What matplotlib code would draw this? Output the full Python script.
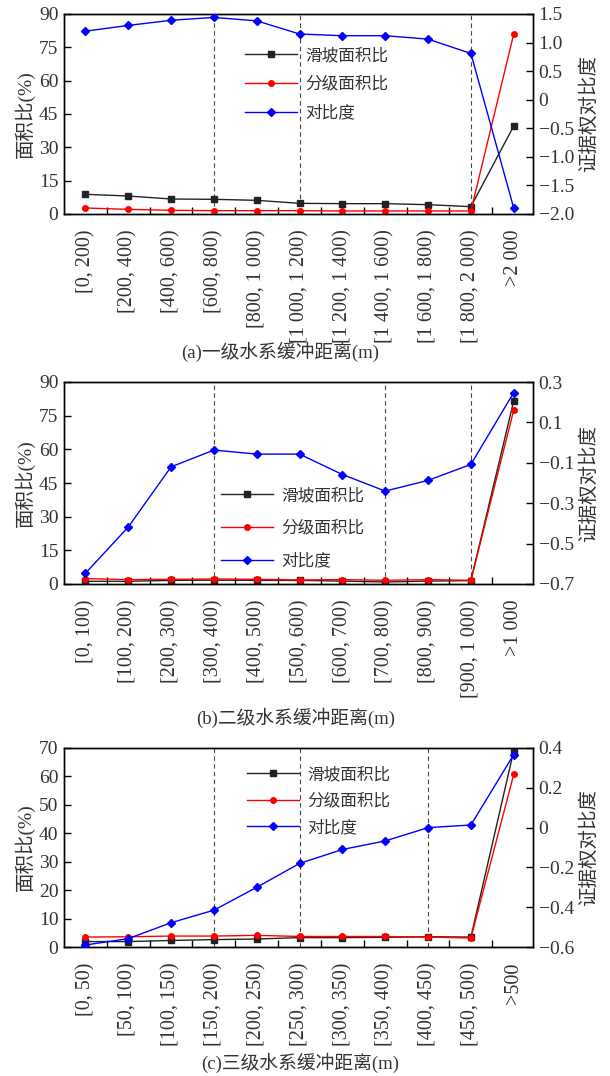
import matplotlib
matplotlib.use('Agg')
import matplotlib.pyplot as plt
from matplotlib.ticker import FixedLocator

plt.rcParams['font.family'] = ['Liberation Serif', 'Noto Sans CJK SC']
plt.rcParams['axes.unicode_minus'] = True

TXT = '#333333'

# (a) first-order river buffers
labels_a = ['[0, 200)', '[200, 400)', '[400, 600)', '[600, 800)', '[800, 1 000)',
            '[1 000, 1 200)', '[1 200, 1 400)', '[1 400, 1 600)', '[1 600, 1 800)',
            '[1 800, 2 000)', '>2 000']
slide_a = [8.85, 8.1, 6.75, 6.6, 6.15, 4.8, 4.65, 4.65, 4.2, 3.3, 39.6]
grade_a = [2.7, 2.1, 1.65, 1.5, 1.5, 1.5, 1.35, 1.35, 1.35, 1.35, 81.0]
contrast_a = [1.20, 1.30, 1.39, 1.44, 1.38, 1.15, 1.12, 1.12, 1.06, 0.81, -1.895]
dash_a = [3, 5, 9]

# (b) second-order river buffers
labels_b = ['[0, 100)', '[100, 200)', '[200, 300)', '[300, 400)', '[400, 500)',
            '[500, 600)', '[600, 700)', '[700, 800)', '[800, 900)', '[900, 1 000)',
            '>1 000']
slide_b = [1.2, 1.2, 1.6, 1.7, 1.6, 1.6, 1.3, 0.9, 1.3, 1.5, 81.6]
grade_b = [2.4, 1.95, 2.1, 2.25, 2.1, 1.8, 1.95, 1.65, 1.95, 1.65, 77.5]
contrast_b = [-0.647, -0.418, -0.12, -0.037, -0.057, -0.057, -0.158, -0.24, -0.187,
              -0.108, 0.248]
dash_b = [3, 7, 9]

# (c) third-order river buffers
labels_c = ['[0, 50)', '[50, 100)', '[100, 150)', '[150, 200)', '[200, 250)',
            '[250, 300)', '[300, 350)', '[350, 400)', '[400, 450)', '[450, 500)',
            '>500']
slide_c = [1.9, 1.9, 2.3, 2.6, 2.8, 3.3, 3.3, 3.4, 3.6, 3.5, 69.0]
grade_c = [3.5, 3.6, 3.85, 3.85, 4.1, 3.7, 3.7, 3.7, 3.5, 3.15, 60.7]
contrast_c = [-0.59, -0.558, -0.478, -0.415, -0.30, -0.18, -0.11, -0.067, 0.0,
              0.013, 0.367]
dash_c = [3, 5, 8]

names = ['滑坡面积比', '分级面积比', '对比度']


def fmt(v):
    s = f'{v:.1f}'
    if s in ('0.0', '-0.0'):
        return '0'
    return s.replace('-', '\u2212')


def panel(rect, labels, slide, grade, contrast, dashes, ymax, ystep,
          rticks, caption, cap_xy, leg_xy, leg_space):
    ax = fig.add_axes(rect)
    x = list(range(len(labels)))
    for d in dashes:
        ax.axvline(d, color='#444444', ls=(0, (4, 3)), lw=0.8, zorder=1)
    l1, = ax.plot(x, slide, color='#222222', marker='s', ms=4, lw=1, zorder=3)
    l2, = ax.plot(x, grade, color='red', marker='o', ms=4, lw=1, zorder=4)
    ax.set_xlim(-0.5, len(labels) - 0.55)
    ax.set_ylim(0, ymax)
    ax.set_yticks(range(0, ymax + 1, ystep))
    ax.set_xticks(x)
    ax.set_xticklabels(labels, rotation=90, fontsize=14.5, color=TXT)
    ax.tick_params(axis='x', which='major', length=0, pad=11)
    ax.xaxis.set_minor_locator(FixedLocator([i + 0.5 for i in x[:-1]]))
    ax.tick_params(axis='x', which='minor', direction='in', length=5, width=1)
    ax.tick_params(axis='y', direction='in', length=5, width=1, labelsize=14,
                   labelcolor=TXT, pad=4)
    ax.set_ylabel('面积比(%)', fontsize=14, color=TXT, labelpad=3)

    ax2 = ax.twinx()
    l3, = ax2.plot(x, contrast, color='blue', marker='D', ms=4, lw=1, zorder=5)
    ax2.set_ylim(rticks[0], rticks[-1])
    ax2.set_yticks(rticks)
    ax2.set_yticklabels([fmt(v) for v in rticks])
    ax2.tick_params(axis='y', direction='in', length=5, width=1, labelsize=14,
                    labelcolor=TXT, pad=4)
    ax2.set_ylabel('证据权对比度', fontsize=14, color=TXT, labelpad=4)

    for a in (ax, ax2):
        for sp in a.spines.values():
            sp.set_linewidth(1)

    ax2.legend([l1, l2, l3], names, loc='upper left', bbox_to_anchor=leg_xy,
               frameon=False, fontsize=12, handlelength=3.1, handletextpad=0.5,
               labelspacing=leg_space, borderpad=0, borderaxespad=0,
               labelcolor=TXT)
    fig.text(cap_xy[0], cap_xy[1], caption, ha='center', va='center',
             fontsize=13.5, color=TXT)


fig = plt.figure(figsize=(6.1, 10.76), dpi=100)
W, H = 610, 1076


def rect(l, t, r, b):
    return [l / W, 1 - b / H, (r - l) / W, (b - t) / H]


panel(rect(64, 14, 533, 214), labels_a, slide_a, grade_a, contrast_a, dash_a,
      90, 15, [-2.0, -1.5, -1.0, -0.5, 0.0, 0.5, 1.0, 1.5],
      '(a)一级水系缓冲距离(m)', (280 / W, 1 - 352 / H), (0.386, 0.83), 0.76)
panel(rect(64, 382, 533, 584), labels_b, slide_b, grade_b, contrast_b, dash_b,
      90, 15, [-0.7, -0.5, -0.3, -0.1, 0.1, 0.3],
      '(b)二级水系缓冲距离(m)', (296 / W, 1 - 718 / H), (0.335, 0.475), 1.0)
panel(rect(64, 748, 533, 947), labels_c, slide_c, grade_c, contrast_c, dash_c,
      70, 10, [-0.6, -0.4, -0.2, 0.0, 0.2, 0.4],
      '(c)三级水系缓冲距离(m)', (300 / W, 1 - 1063 / H), (0.39, 0.905), 0.64)

fig.savefig('out.png', dpi=100)
